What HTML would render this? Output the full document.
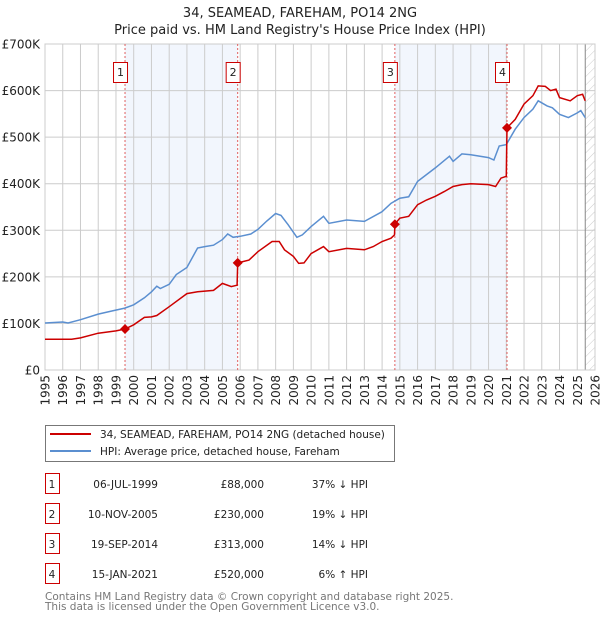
<!DOCTYPE html>
<html><head><meta charset="utf-8"><style>
body{margin:0;background:#fff;font-family:"DejaVu Sans","Liberation Sans",sans-serif;}
svg{display:block}
</style></head><body>
<svg id="chart" width="600" height="620" xmlns="http://www.w3.org/2000/svg" font-family="DejaVu Sans, Liberation Sans, sans-serif">
<defs><pattern id="hatch" width="6" height="6" patternUnits="userSpaceOnUse" patternTransform="rotate(45)"><line x1="0" y1="0" x2="0" y2="6" stroke="#ccc" stroke-width="1"/></pattern></defs>
<text x="300" y="17" text-anchor="middle" font-size="13" fill="#222">34, SEAMEAD, FAREHAM, PO14 2NG</text>
<text x="300" y="34" text-anchor="middle" font-size="13" fill="#222">Price paid vs. HM Land Registry's House Price Index (HPI)</text>
<g id="plot"></g>
<g>
<rect x="45.5" y="425.5" width="349" height="36" fill="#fff" stroke="#777"/>
<line x1="50" y1="434" x2="91" y2="434" stroke="#cc0000" stroke-width="2"/>
<text x="100" y="438" font-size="10.5" fill="#222">34, SEAMEAD, FAREHAM, PO14 2NG (detached house)</text>
<line x1="50" y1="451" x2="91" y2="451" stroke="#5b8fd0" stroke-width="2"/>
<text x="100" y="455" font-size="10.5" fill="#222">HPI: Average price, detached house, Fareham</text>
</g>
<g id="table" font-size="10.5" fill="#222"></g>
<text x="45" y="600" font-size="10.5" fill="#777">Contains HM Land Registry data © Crown copyright and database right 2025.</text>
<text x="45" y="610" font-size="10.5" fill="#777">This data is licensed under the Open Government Licence v3.0.</text>
</svg>
<script>
const hpiYears=[1995,1996,1996.3,1997,1998,1998.8,1999.5,2000,2000.6,2001,2001.3,2001.5,2002,2002.4,2003,2003.6,2004,2004.5,2005,2005.3,2005.6,2006,2006.6,2007,2007.5,2008,2008.3,2008.7,2009.2,2009.5,2010,2010.7,2011,2012,2013,2014,2014.5,2015,2015.5,2016,2017,2017.8,2018,2018.5,2019,2020,2020.3,2020.6,2021,2021.5,2022,2022.5,2022.8,2023.3,2023.6,2024,2024.5,2025,2025.2,2025.45];
const hpiValues=[101,103,101,108,120,127,133,140,155,168,180,175,184,205,220,262,265,268,280,292,285,287,292,302,320,336,332,312,285,290,308,330,315,322,319,340,358,369,372,405,434,459,448,464,462,456,451,481,484,517,542,560,578,567,563,549,542,552,557,542];
const propYears=[1995,1996.5,1997,1998,1999,1999.51,2000,2000.6,2001,2001.3,2002,2003,2003.6,2004.5,2005,2005.5,2005.83,2005.86,2006.5,2007,2007.8,2008.2,2008.5,2009,2009.3,2009.6,2010,2010.7,2011,2012,2013,2013.5,2014,2014.5,2014.7,2014.72,2015,2015.5,2016,2016.5,2017,2017.5,2018,2018.5,2019,2020,2020.4,2020.7,2021,2021.04,2021.5,2022,2022.5,2022.8,2023.2,2023.5,2023.8,2024,2024.6,2025,2025.3,2025.45];
const propValues=[66,66,69,79,84,88,97,113,114,117,136,164,168,171,186,179,182,230,236,254,276,276,258,244,229,230,250,265,254,261,258,265,276,283,290,313,326,330,355,365,373,383,394,398,400,398,394,412,416,520,538,571,589,610,609,600,603,585,578,589,592,578];
const saleLabels=["1","2","3","4"];
const saleYears=[1999.51,2005.86,2014.72,2021.04];
const saleValues=[88,230,313,520];
const saleDates=["06-JUL-1999","10-NOV-2005","19-SEP-2014","15-JAN-2021"];
const salePrices=["£88,000","£230,000","£313,000","£520,000"];
const saleHpi=["37% ↓ HPI","19% ↓ HPI","14% ↓ HPI","6% ↑ HPI"];
const yTicks=[0,100,200,300,400,500,600,700];
const yTickLabels=["£0","£100K","£200K","£300K","£400K","£500K","£600K","£700K"];
const xTicks=[1995,1996,1997,1998,1999,2000,2001,2002,2003,2004,2005,2006,2007,2008,2009,2010,2011,2012,2013,2014,2015,2016,2017,2018,2019,2020,2021,2022,2023,2024,2025,2026];
const dataEndYear=2025.45;

const NS="http://www.w3.org/2000/svg";
const X0=45,X1=595,Y0=370,Y1=44;
const x=y=>X0+(y-1995)*(X1-X0)/31;
const yv=v=>Y0-v*(Y0-Y1)/700;
const plot=document.getElementById('plot');
function mk(tag,attrs,parent){const e=document.createElementNS(NS,tag);for(const k in attrs)e.setAttribute(k,attrs[k]);(parent||plot).appendChild(e);return e;}

for(let i=0;i<2;i++){
  const r=mk('rect',{x:x(saleYears[2*i]),y:Y1,width:x(saleYears[2*i+1])-x(saleYears[2*i]),height:Y0-Y1,fill:'#f2f6fd'});
  
  
}
xTicks.forEach(t=>{
  const l=mk('line',{x1:x(t),x2:x(t),y1:Y1,y2:Y0,stroke:'#ccc','stroke-width':1});
  
  
  const tx=mk('text',{x:0,y:0,transform:`translate(${x(t)+4.5},${Y0+5}) rotate(-90)`,'text-anchor':'end','font-size':12,fill:'#222'});
  tx.textContent=t;
  
  
});
yTicks.forEach((t,i)=>{
  const l=mk('line',{x1:X0,x2:X1,y1:yv(t),y2:yv(t),stroke:'#ccc','stroke-width':1});
  
  
  const tx=mk('text',{x:40,y:yv(t)+4.5,'text-anchor':'end','font-size':12,fill:'#222'});
  tx.textContent=yTickLabels[i];
  
  
});
const hr=mk('rect',{x:x(dataEndYear),y:Y1,width:X1-x(dataEndYear),height:Y0-Y1,fill:'url(#hatch)'});


const hl=mk('line',{x1:x(dataEndYear),x2:x(dataEndYear),y1:Y1,y2:Y0,stroke:'#888','stroke-width':1});


const fr=mk('rect',{x:X0,y:Y1,width:X1-X0,height:Y0-Y1,fill:'none',stroke:'#ccc'});



saleYears.forEach((s,i)=>{
  const l=mk('line',{x1:x(s),x2:x(s),y1:Y1,y2:Y0,stroke:'#e06060','stroke-width':1,'stroke-dasharray':'2,2'});
  
  
  const b=mk('rect',{x:x(s)-11.5,y:62.5,width:14,height:20,fill:'#fff',stroke:'#cc0000'});
  
  
  const t=mk('text',{x:x(s)-4.5,y:76,'text-anchor':'middle','font-size':11,fill:'#222'});
  t.textContent=saleLabels[i];
  
  
});
const path=(ys,vs)=>ys.map((y,i)=>(i?'L':'M')+x(y).toFixed(1)+','+yv(vs[i]).toFixed(1)).join('');
const hp=mk('path',{d:path(hpiYears,hpiValues),fill:'none',stroke:'#5b8fd0','stroke-width':1.5});


const pp=mk('path',{d:path(propYears,propValues),fill:'none',stroke:'#cc0000','stroke-width':1.5});


saleYears.forEach((s,i)=>{
  const cx=x(s),cy=yv(saleValues[i]);
  const d=mk('path',{d:`M${cx},${cy-5}L${cx+5},${cy}L${cx},${cy+5}L${cx-5},${cy}Z`,fill:'#cc0000'});
  
  
});
const tb=document.getElementById('table');
saleLabels.forEach((lab,i)=>{
  const yy=488+i*30;
  const b=mk('rect',{x:45.5,y:yy-14.5,width:14,height:20,fill:'#fff',stroke:'#cc0000'},tb);
  
  
  const cells=[[52,lab,'middle'],[158,saleDates[i],'end'],[264,salePrices[i],'end'],[368,saleHpi[i],'end']];
  const names=['table-marker-label','sale-date','sale-price','hpi-comparison'];
  cells.forEach((c,j)=>{
    const t=mk('text',{x:c[0],y:yy,'text-anchor':c[2]},tb);
    t.textContent=c[1];
    
    
  });
});
</script>
</body></html>
